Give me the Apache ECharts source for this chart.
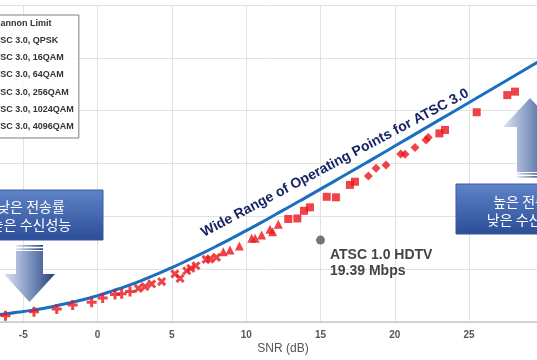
<!DOCTYPE html>
<html>
<head>
<meta charset="utf-8">
<script src="https://cdn.jsdelivr.net/npm/echarts@6/dist/echarts.min.js"></script>
<style>html,body{margin:0;padding:0;background:#fff}#c{width:537px;height:360px}</style>
</head>
<body>
<div id="c"></div>
<script>
// ---- data ----
const xTicks = [-10, -5, 0, 5, 10, 15, 20, 25, 30];
const shannonSnr  = [-7, -6, -5, -4, -3, -2, -1, 0, 1, 2, 3, 4, 5, 6, 7, 8, 9, 10, 11, 12, 13, 14, 15, 16, 17, 18, 19, 20, 22, 24, 26, 28, 30];
const shannonRate = [0.26, 0.32, 0.40, 0.48, 0.59, 0.71, 0.84, 1.00, 1.18, 1.37, 1.58, 1.81, 2.06, 2.32, 2.59, 2.87, 3.16, 3.46, 3.76, 4.08, 4.39, 4.71, 5.03, 5.35, 5.68, 6.00, 6.33, 6.66, 7.32, 7.98, 8.64, 9.30, 9.97];
const qpsk   = [[-6.2,0.24],[-4.28,0.39],[-2.75,0.49],[-1.68,0.64],[-0.4,0.75],[0.34,0.91],[1.17,1.04],[1.62,1.07],[2.18,1.15]];
const qam16  = [[2.74,1.27],[3.19,1.34],[3.64,1.44],[4.31,1.53],[5.2,1.82],[5.55,1.65],[6.0,1.94],[6.27,2.03],[6.62,2.13],[7.3,2.37],[7.56,2.38],[8.0,2.45]];
const qam64  = [[8.46,2.66],[8.91,2.73],[9.54,2.88],[10.37,3.17],[10.6,3.17],[11.04,3.29],[11.6,3.51],[11.78,3.42],[12.16,3.70]];
const qam256 = [[12.83,3.90],[13.44,3.92],[13.89,4.21],[14.29,4.34],[15.42,4.74],[16.04,4.72],[16.98,5.19],[17.32,5.31]];
const qam1024= [[18.22,5.53],[18.74,5.82],[19.41,5.94],[20.4,6.36],[20.69,6.35],[21.36,6.61],[22.1,6.89],[22.25,6.98]];
const qam4096= [[23.0,7.14],[23.38,7.27],[25.51,7.94],[27.57,8.59],[28.09,8.72]];
const atsc1  = [[15, 3.1]];
const seriesNames = ['Shannon Limit','ATSC 3.0, QPSK','ATSC 3.0, 16QAM','ATSC 3.0, 64QAM','ATSC 3.0, 256QAM','ATSC 3.0, 1024QAM','ATSC 3.0, 4096QAM'];

const RED = '#e8141b';
const plus = 'path://M3.5,0H6.5V3.5H10V6.5H6.5V10H3.5V6.5H0V3.5H3.5Z';
const FONT = 'Liberation Sans';

function pts(name, data, symbol, size, rot){
  return {name, type:'scatter', data, symbol, symbolSize:size, symbolRotate:rot||0,
          itemStyle:{color:RED}, z:3};
}

const chart = echarts.init(document.getElementById('c'), null, {renderer:'canvas'});
const armGrad = {type:'linear', x:0, y:0, x2:1, y2:0,
  colorStops:[{offset:0,color:'#dde4f0'},{offset:0.5,color:'#7f96c0'},{offset:1,color:'#223f7a'}]};
const boxGrad = {type:'linear', x:0, y:0, x2:0, y2:1,
  colorStops:[{offset:0,color:'#5f84c8'},{offset:1,color:'#2b4d97'}]};

chart.setOption({
  animation:false,
  backgroundColor:'#ffffff',
  textStyle:{fontFamily:FONT},
  grid:{left:-51, right:-6.4, top:5, bottom:38, containLabel:false, outerBoundsMode:'none'},
  xAxis:{type:'value', min:xTicks[0], max:xTicks[xTicks.length-1], interval:5,
    axisLine:{show:true, lineStyle:{color:'#c8c8c8', width:1.5}},
    axisTick:{show:false},
    axisLabel:{color:'#555', fontSize:10, fontWeight:'bold', margin:8, fontFamily:FONT},
    splitLine:{show:true, lineStyle:{color:'#e2e2e2', width:1}}},
  yAxis:{type:'value', min:0, max:12, interval:2,
    axisLine:{show:false}, axisTick:{show:false}, axisLabel:{show:false},
    splitLine:{show:true, lineStyle:{color:'#e2e2e2', width:1}}},
  legend:{orient:'vertical', left:-47, top:15, itemWidth:25, itemHeight:10, itemGap:7.33,
    padding:[4,5,6,5], data:seriesNames,
    borderColor:'#7d7d8c', borderWidth:1, backgroundColor:'rgba(255,255,255,0.85)',
    textStyle:{fontSize:9, fontWeight:'bold', color:'#333', fontFamily:FONT}},
  series:[
    {name:seriesNames[0], type:'line', data:shannonSnr.map((s,i)=>[s, shannonRate[i]]),
      smooth:true, showSymbol:false, symbol:'none', lineStyle:{color:'#1b6fc0', width:3},
      itemStyle:{color:'#1b6fc0'}, z:2},
    pts(seriesNames[1], qpsk, plus, 10),
    pts(seriesNames[2], qam16, plus, 10, 45),
    pts(seriesNames[3], qam64, 'triangle', 9),
    pts(seriesNames[4], qam256, 'rect', 8),
    pts(seriesNames[5], qam1024, 'diamond', 9),
    pts(seriesNames[6], qam4096, 'rect', 8),
    {name:'ATSC 1.0 HDTV', type:'scatter', data:atsc1, symbol:'circle', symbolSize:9,
      itemStyle:{color:'#555'}, z:3}
  ],
  graphic:[
    // left box
    {type:'rect', shape:{x:-43, y:190, width:146, height:50}, style:{fill:boxGrad, stroke:'#3a5aa0', lineWidth:1}, z:10},
    {type:'text', x:31, y:216, style:{text:'낮은 전송률\n높은 수신성능', x:0, y:0, align:'center', verticalAlign:'middle',
      fontSize:14, lineHeight:18, fontFamily:'Noto Sans CJK KR', fill:'#ffffff'}, z:11},
    // right box
    {type:'rect', shape:{x:456, y:184, width:140, height:50}, style:{fill:boxGrad, stroke:'#3a5aa0', lineWidth:1}, z:10},
    {type:'text', x:527, y:211, style:{text:'높은 전송률\n낮은 수신성능', x:0, y:0, align:'center', verticalAlign:'middle',
      fontSize:14, lineHeight:18, fontFamily:'Noto Sans CJK KR', fill:'#ffffff'}, z:11},
    // left down arrow
    {type:'rect', shape:{x:16, y:245, width:27, height:1.7}, style:{fill:armGrad}, z:10},
    {type:'rect', shape:{x:16, y:248.3, width:27, height:1.7}, style:{fill:armGrad}, z:10},
    {type:'polygon', shape:{points:[[16,251],[43,251],[43,274],[55,274],[29.5,302],[4,274],[16,274]]}, style:{fill:armGrad}, z:10},
    // right up arrow
    {type:'polygon', shape:{points:[[517,172],[517,127],[503,127],[530,98],[557,127],[543,127],[543,172]]}, style:{fill:armGrad}, z:10},
    {type:'rect', shape:{x:517, y:173, width:26, height:1.7}, style:{fill:armGrad}, z:10},
    {type:'rect', shape:{x:517, y:176, width:26, height:1.7}, style:{fill:armGrad}, z:10},
    // annotations
    {type:'text', x:335, y:163, rotation:28*Math.PI/180, style:{text:'Wide Range of Operating Points for ATSC 3.0', x:0, y:0,
      align:'center', verticalAlign:'middle', fontSize:14, fontWeight:'bold', fontFamily:FONT, fill:'#172462'}, z:10},
    {type:'text', x:330, y:247, style:{text:'ATSC 1.0 HDTV\n19.39 Mbps', x:0, y:0, align:'left', verticalAlign:'top',
      fontSize:14, lineHeight:16, fontWeight:'bold', fontFamily:FONT, fill:'#444'}, z:10},
    {type:'text', x:283, y:349, style:{text:'SNR (dB)', x:0, y:0, align:'center', verticalAlign:'middle',
      fontSize:12, fontFamily:FONT, fill:'#555'}, z:10}
  ]
});
</script>
</body>
</html>
